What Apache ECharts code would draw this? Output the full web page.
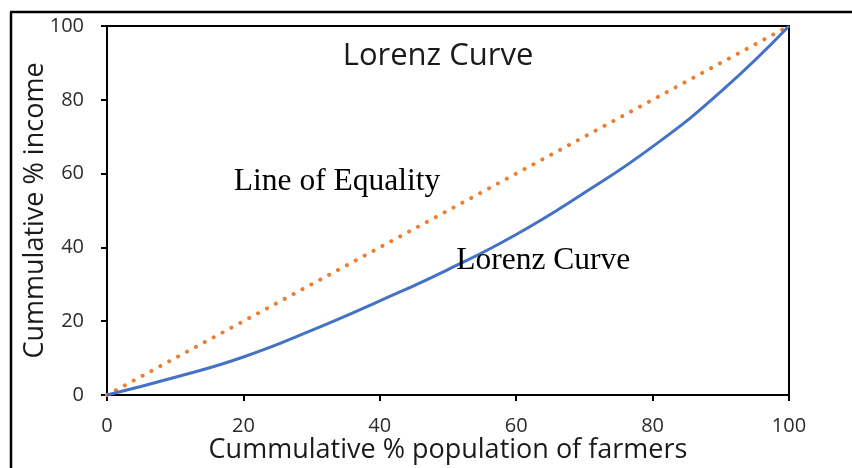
<!DOCTYPE html>
<html>
<head>
<meta charset="utf-8">
<script src="https://cdn.jsdelivr.net/npm/echarts@6/dist/echarts.min.js"></script>
<style>html,body{margin:0;padding:0;background:#fff;}#c{width:852px;height:468px;}</style>
</head>
<body>
<div id="c"></div>
<script>
// Data
const populationPct = [0, 10, 20, 30, 40, 50, 60, 70, 80, 90, 100];
const lorenzIncome = [0, 4.8, 10.3, 17.5, 25.5, 34.0, 43.5, 54.8, 67.3, 82.2, 100];
const equalityPoints = [[0, 0], [100, 100]];
const axisTicks = [0, 20, 40, 60, 80, 100];
const annotations = [
  { text: 'Line of Equality', x: 18.6, y: 58.0 },
  { text: 'Lorenz Curve', x: 51.2, y: 36.6 }
];
const chartTitle = 'Lorenz Curve';
const xName = 'Cummulative % population of farmers';
const yName = 'Cummulative % income';

const chart = echarts.init(document.getElementById('c'), null, { renderer: 'canvas' });
const sans = '"Open Sans", "Noto Sans", sans-serif';
const serif = '"Liberation Serif", "DejaVu Serif", serif';

const option = {
  backgroundColor: '#fff',
  animation: false,
  title: {
    text: chartTitle,
    left: 433, top: 36, textAlign: 'center',
    textStyle: { fontFamily: sans, fontSize: 31, fontWeight: 'normal', color: '#1a1a1a' }
  },
  grid: { left: 107, right: 63, top: 26, bottom: 73, containLabel: false, outerBoundsMode: 'none', show: true, borderColor: '#000', borderWidth: 2, backgroundColor: 'transparent' },
  xAxis: {
    type: 'value', min: 0, max: 100, interval: 20,
    name: xName, nameLocation: 'middle', nameGap: 42, nameMoveOverlap: false,
    nameTextStyle: { fontFamily: sans, fontSize: 27, color: '#1a1a1a' },
    axisLine: { lineStyle: { color: '#000', width: 2 } },
    axisTick: { show: true, length: 6, lineStyle: { color: '#000', width: 2 } },
    axisLabel: { fontFamily: sans, fontSize: 20, color: '#2b2b2b', margin: 21, hideOverlap: false },
    splitLine: { show: false }
  },
  yAxis: {
    type: 'value', min: 0, max: 100, interval: 20,
    name: yName, nameLocation: 'middle', nameGap: 58, nameMoveOverlap: false,
    nameTextStyle: { fontFamily: sans, fontSize: 27, color: '#1a1a1a' },
    axisLine: { show: true, lineStyle: { color: '#000', width: 2 } },
    axisTick: { show: true, length: 6, lineStyle: { color: '#000', width: 2 } },
    axisLabel: { fontFamily: sans, fontSize: 20, color: '#2b2b2b', margin: 23 },
    splitLine: { show: false }
  },
  series: [
    {
      type: 'line', name: 'Equality',
      data: equalityPoints,
      showSymbol: false, silent: true,
      lineStyle: { color: '#ED7D31', width: 4, type: [0.1, 10], cap: 'round' },
      z: 3
    },
    {
      type: 'line', name: 'Lorenz',
      data: populationPct.map((p, i) => [p, lorenzIncome[i]]),
      smooth: 0.5, showSymbol: false, silent: true,
      lineStyle: { color: '#4472C4', width: 3 },
      z: 4
    }
  ]
};
chart.setOption(option);

const graphics = [
  { type: 'line', shape: { x1: 10, y1: 12, x2: 852, y2: 12 }, style: { stroke: '#000', lineWidth: 2.5 } },
  { type: 'line', shape: { x1: 11, y1: 12, x2: 11, y2: 468 }, style: { stroke: '#000', lineWidth: 2.5 } }
];
annotations.forEach(a => {
  const p = chart.convertToPixel({ gridIndex: 0 }, [a.x, a.y]);
  graphics.push({
    type: 'text', left: p[0], top: p[1] - 15, z: 10,
    style: { text: a.text, font: '31.5px ' + serif, fill: '#000' }
  });
});
chart.setOption({ graphic: graphics });
</script>
</body>
</html>
